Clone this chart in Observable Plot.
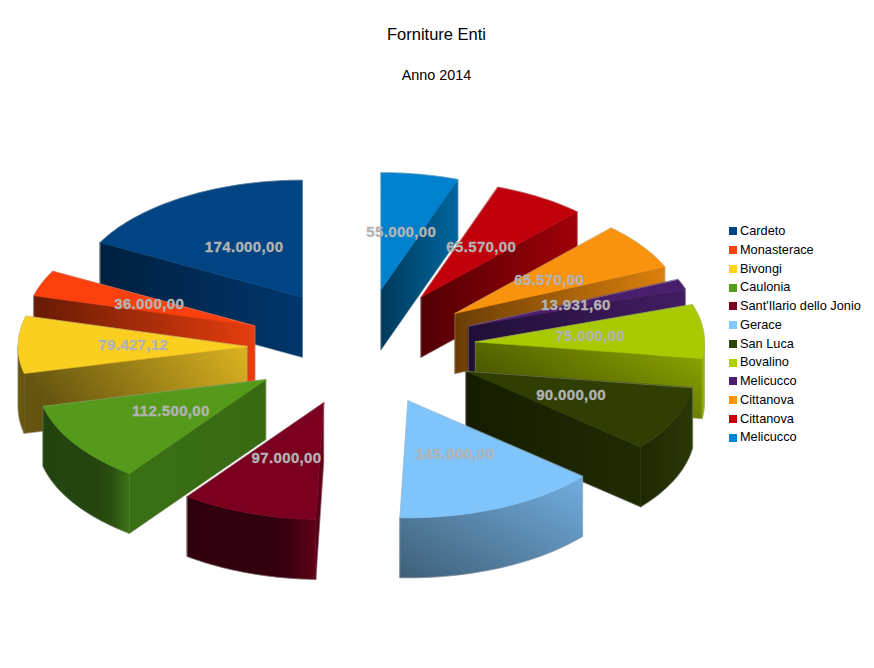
<!DOCTYPE html>
<html lang="it">
<head>
<meta charset="utf-8">
<title>Forniture Enti</title>
<script src="https://cdn.jsdelivr.net/npm/d3@7"></script>
<script src="https://cdn.jsdelivr.net/npm/@observablehq/plot@0.6"></script>
<style>
  html, body { margin: 0; background: #fff; }
  #page { position: relative; width: 874px; height: 668px; font-family: "Liberation Sans", sans-serif; color: #000; overflow: hidden; }
  #page svg { display: block; }
  .ttl { position: absolute; left: 0; width: 873px; text-align: center; margin: 0; font-weight: normal; }
  #t1 { top: 24.5px; font-size: 16.5px; line-height: 18px; }
  #t2 { top: 67px; font-size: 14.4px; line-height: 16px; }
  #legend { position: absolute; left: 729px; top: 222px; font-size: 12.75px; line-height: 18.75px; }
  #legend div { white-space: nowrap; display: flex; align-items: center; height: 18.75px; }
  #legend i { display: inline-block; width: 8px; height: 8px; margin-right: 3px; }
</style>
</head>
<body>
<div id="page">
  <h1 class="ttl" id="t1">Forniture Enti</h1>
  <h2 class="ttl" id="t2">Anno 2014</h2>
  <div id="chart"></div>
  <div id="legend"></div>
</div>
<script>
// ---- data ----
const towns = ["Cardeto", "Monasterace", "Bivongi", "Caulonia", "Sant'Ilario dello Jonio", "Gerace", "San Luca", "Bovalino", "Melicucco", "Cittanova", "Cittanova", "Melicucco"];
const amounts = [174000, 36000, 79427.12, 112500, 97000, 145000, 90000, 75000, 13931.6, 65570, 65570, 55000];
const legendColors = ["#004586", "#ff420e", "#ffd320", "#579d1c", "#7e0021", "#83caff", "#314004", "#aecf00", "#4b1f6f", "#ff950e", "#c5000b", "#0084d1"];
const topColors = ["#004483", "#fb400d", "#facf1f", "#559a1b", "#7b0020", "#7fc4fb", "#303e04", "#a9ca00", "#491e6c", "#f9920d", "#c0000a", "#0081cd"];
const radialWall = [
  ["#00203f", "#00366c"], ["#661b05", "#e63d0e"], ["#655510", "#dcb320"], ["#3a7014", "#386a14"],
  ["#4d0014", "#6a001b"], ["#6ea8d8", "#6ea8d8"], ["#161c00", "#202b02"], ["#445000", "#8fa900"],
  ["#1f0f36", "#431d63"], ["#6b3e06", "#db800c"], ["#500004", "#a00008"], ["#003a5c", "#00669f"]
];
const outerWall = [
  ["#00203f", "#00366c"], ["#661b05", "#661b05"], ["#6a5810", "#665510"],
  ["#22420e", "#24450f", "#24450f", "#24450f", "#2a5010", "#3d7515"],
  ["#2e000c", "#33000d", "#33000d", "#33000d", "#3c0010", "#600018"],
  ["#3f6078", "#72aee0"], ["#1e2803", "#2a3705"], ["#8fa900", "#9cb800"],
  ["#1f0f36", "#431d63"], ["#6b3e06", "#db800c"], ["#500004", "#a00008"], ["#003a5c", "#00669f"]
];
const wallTilt = [0, 0, 0.3, 0, 0, 1, 0, 0.6, 0, 0, 0, 0];

// ---- projection of the exploded pie ----
const W = 874, H = 668;
const cx = 361, cy = 346.8, rx = 229, ry = 117;
const explode = 0.5, thickness = 60 / ry, labelAt = 0.5;
const fmt = d3.formatLocale({decimal: ",", thousands: ".", grouping: [3], currency: ["", ""]}).format(",.2f");

const total = d3.sum(amounts);
const toRad = Math.PI / 180;
let running = 0;
const slices = amounts.map((v, i) => {
  const a0 = running / total * 360;
  running += v;
  const a1 = running / total * 360;
  const mid = (a0 + a1) / 2;
  // angles run counter-clockwise from 12 o'clock
  const ox = -Math.sin(mid * toRad) * explode, oy = -Math.cos(mid * toRad) * explode;
  const P = a => ({x: ox - Math.sin(a * toRad), y: oy - Math.cos(a * toRad)});
  return {i, a0, a1, mid, ox, oy, P};
});
const drop = p => ({x: p.x, y: p.y + thickness});
function arc(s, a, b) {
  const n = Math.max(1, Math.ceil((b - a) / 1.5));
  return d3.range(n + 1).map(k => s.P(a + (b - a) * k / n));
}

const faces = [], gradients = [];
function gradient(id, stops, tilt) { gradients.push({id, stops, tilt}); return `url(#${id})`; }

// back slices first, so that front slices overlap them
for (const s of d3.sort(slices, s => s.oy)) {
  const apex = {x: s.ox, y: s.oy};
  const walls = [];
  const addWall = (pts, id, stops) => {
    const fill = gradient(id, stops, wallTilt[s.i]);
    walls.push({pts: [...pts, ...pts.slice().reverse().map(drop)], fill, color: fill});
  };
  const pa = s.P(s.a0), pb = s.P(s.a1);
  if (pa.x - apex.x > 1e-6) addWall([apex, pa], `ra${s.i}`, radialWall[s.i]);
  if (apex.x - pb.x > 1e-6) addWall([pb, apex], `rb${s.i}`, radialWall[s.i]);
  const from = Math.max(s.a0, 90), to = Math.min(s.a1, 270);
  if (to > from) addWall(arc(s, from, to), `o${s.i}`, outerWall[s.i]);
  faces.push(...walls);
  const top = [apex, ...arc(s, s.a0, s.a1)];
  faces.push({pts: top, fill: topColors[s.i], color: topColors[s.i]});
  // thin grey silhouette round the whole exploded slice
  const all = [...top, ...walls.flatMap(w => w.pts)];
  const hull = d3.polygonHull(all.map(p => [p.x, p.y])).map(([x, y]) => ({x, y}));
  faces.push({pts: hull, fill: "none", color: "#a8a8a8", width: 0.7, opacity: 0.55});
}

const labels = slices.map(s => ({
  x: s.ox - Math.sin(s.mid * toRad) * labelAt,
  y: s.oy - Math.cos(s.mid * toRad) * labelAt,
  text: fmt(amounts[s.i])
}));

const defs = () => {
  const d = d3.create("svg:defs");
  const g = d.selectAll("linearGradient").data(gradients).join("linearGradient")
    .attr("id", d => d.id).attr("x1", 0).attr("y1", d => d.tilt).attr("x2", 1).attr("y2", 0);
  g.selectAll("stop").data(d => d.stops.map((c, k) => ({c, o: k / (d.stops.length - 1)}))).join("stop")
    .attr("offset", d => d.o).attr("stop-color", d => d.c);
  return d.node();
};

const plot = Plot.plot({
  width: W, height: H,
  margin: 0,
  x: {domain: [-cx / rx, (W - cx) / rx], range: [0, W], axis: null},
  y: {domain: [-cy / ry, (H - cy) / ry], range: [0, H], axis: null},
  style: {fontFamily: "'Liberation Sans', sans-serif", background: "transparent", letterSpacing: "0.35px"},
  marks: [
    defs,
    ...faces.map(f => Plot.line(f.pts, {
      x: "x", y: "y", curve: "linear-closed",
      fill: f.fill, stroke: f.color, strokeWidth: f.width ?? 0.6, strokeOpacity: f.opacity ?? 1
    })),
    Plot.text(labels, {
      x: "x", y: "y", text: "text", dx: 0.7,
      fill: "#b3b3b3", stroke: "#b3b3b3", strokeWidth: 0.35, fontWeight: "bold", fontSize: 15
    })
  ]
});
document.getElementById("chart").append(plot);

// ---- legend ----
const legend = d3.select("#legend");
const rows = legend.selectAll("div").data(towns).join("div");
rows.append("i").style("background", (d, i) => legendColors[i]);
rows.append("span").text(d => d);
</script>
</body>
</html>
